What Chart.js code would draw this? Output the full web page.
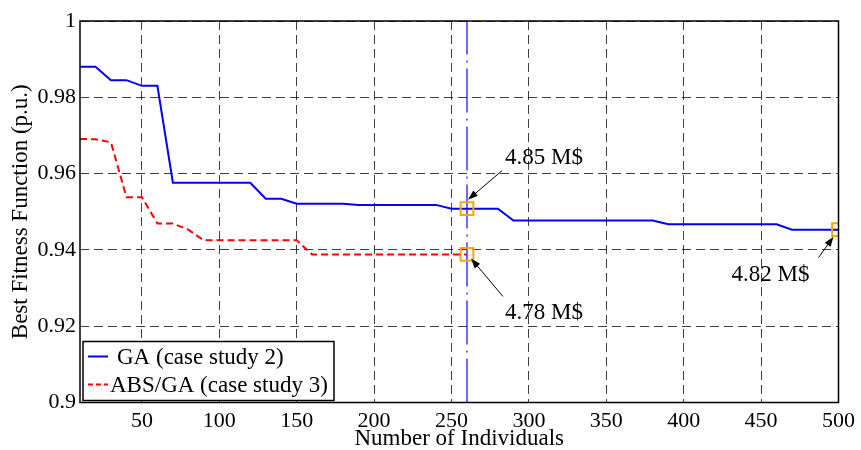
<!DOCTYPE html>
<html>
<head>
<meta charset="utf-8">
<script src="https://cdn.jsdelivr.net/npm/chart.js@4.4.0/dist/chart.umd.min.js"></script>
<style>
  body { margin: 0; background: #fff; }
  #wrap { width: 861px; height: 450px; }
</style>
</head>
<body>
<div id="wrap"><canvas id="fitChart"></canvas></div>
<script>
// number of individuals (x) and best fitness (y)
const individuals = [10,20,30,40,50,60,70,80,90,100,110,120,130,140,150,160,170,180,190,200,
  210,220,230,240,250,260,270,280,290,300,310,320,330,340,350,360,370,380,390,400,
  410,420,430,440,450,460,470,480,490,500];
const gaFitness = [0.9880,0.9880,0.9845,0.9845,0.9830,0.9830,0.9576,0.9576,0.9576,0.9576,0.9576,0.9576,
  0.9534,0.9534,0.9521,0.9521,0.9521,0.9521,0.9518,0.9518,0.9518,0.9518,0.9518,0.9518,
  0.9508,0.9508,0.9508,0.9508,0.9477,0.9477,0.9477,0.9477,0.9477,0.9477,0.9477,0.9477,0.9477,0.9477,
  0.9467,0.9467,0.9467,0.9467,0.9467,0.9467,0.9467,0.9467,0.9453,0.9453,0.9453,0.9453];
const absIndividuals = [10,20,30,40,50,60,70,80,90,100,110,120,130,140,150,160,170,180,190,200,
  210,220,230,240,250,260];
const absGaFitness = [0.9691,0.9690,0.9682,0.9538,0.9538,0.9469,0.9469,0.9453,0.9425,0.9425,0.9425,0.9425,
  0.9425,0.9425,0.9425,0.9388,0.9388,0.9388,0.9388,0.9388,0.9388,0.9388,0.9388,0.9388,0.9388,0.9388];

const cutoffX = 260;
const markerX = [260, 260, 500];
const markerY = [0.9508, 0.9388, 0.9453];
const markerLabels = ['4.85 M$', '4.78 M$', '4.82 M$'];

const xTicks = [50,100,150,200,250,300,350,400,450,500];
const yTicks = [0.9,0.92,0.94,0.96,0.98,1];
const legendLabels = ['GA (case study 2)', 'ABS/GA (case study 3)'];

// pixel offsets of arrows/texts relative to each marker
const noteOffsets = [
  {tip: [1, -9], tail: [35, -38], text: [38, -45]},
  {tip: [4, 4], tail: [36, 42], text: [38, 65]},
  {tip: [-5, 7], tail: [-20, 28], text: [-107, 51]}
];

const serif = '"Liberation Serif", "Times New Roman", serif';

function arrow(ctx, x1, y1, x2, y2) {
  const a = Math.atan2(y2 - y1, x2 - x1);
  const L = 10, W = 3.5;
  ctx.beginPath();
  ctx.moveTo(x1, y1);
  ctx.lineTo(x2 - 6 * Math.cos(a), y2 - 6 * Math.sin(a));
  ctx.stroke();
  ctx.beginPath();
  ctx.moveTo(x2, y2);
  ctx.lineTo(x2 - L * Math.cos(a) + W * Math.sin(a), y2 - L * Math.sin(a) - W * Math.cos(a));
  ctx.lineTo(x2 - L * Math.cos(a) - W * Math.sin(a), y2 - L * Math.sin(a) + W * Math.cos(a));
  ctx.closePath();
  ctx.fill();
}

const extras = {
  id: 'extras',
  afterDraw(chart) {
    const {ctx, chartArea: a, scales: {x, y}} = chart;
    ctx.save();
    // box around the axes
    ctx.strokeStyle = '#000';
    ctx.lineWidth = 1.5;
    ctx.setLineDash([]);
    ctx.strokeRect(a.left, a.top, a.right - a.left, a.bottom - a.top);

    // cost notes with arrows
    ctx.fillStyle = '#000';
    ctx.lineWidth = 1;
    ctx.font = '23px ' + serif;
    ctx.textBaseline = 'alphabetic';
    ctx.textAlign = 'left';
    markerX.forEach((mx, i) => {
      const px = x.getPixelForValue(mx), py = y.getPixelForValue(markerY[i]);
      const o = noteOffsets[i];
      arrow(ctx, px + o.tail[0], py + o.tail[1], px + o.tip[0], py + o.tip[1]);
      ctx.fillText(markerLabels[i], px + o.text[0], py + o.text[1]);
    });

    // legend box
    const bx = a.left + 3, by = a.bottom - 61, bw = 251, bh = 59;
    ctx.fillStyle = '#fff';
    ctx.fillRect(bx, by, bw, bh);
    ctx.strokeStyle = '#000';
    ctx.lineWidth = 1.5;
    ctx.strokeRect(bx, by, bw, bh);
    const rows = [
      {c: '#0000ff', dash: [], ty: 15, tx: 34},
      {c: '#ff0000', dash: [5, 3], ty: 43, tx: 27}
    ];
    ctx.textBaseline = 'middle';
    rows.forEach((r, i) => {
      ctx.strokeStyle = r.c;
      ctx.lineWidth = 2;
      ctx.setLineDash(r.dash);
      ctx.beginPath();
      ctx.moveTo(bx + 5, by + r.ty);
      ctx.lineTo(bx + 25, by + r.ty);
      ctx.stroke();
      ctx.setLineDash([]);
      ctx.fillStyle = '#000';
      ctx.fillText(legendLabels[i], bx + r.tx, by + r.ty + 1);
    });
    ctx.restore();
  }
};

const toPts = (xs, ys) => xs.map((v, i) => ({x: v, y: ys[i]}));

const ctx = document.getElementById('fitChart').getContext('2d');
const fitChart = new Chart(ctx, {
  type: 'line',
  data: {
    datasets: [
      {
        label: 'cost markers',
        data: toPts(markerX, markerY),
        showLine: false,
        pointStyle: 'rect',
        pointRadius: 9,
        pointBorderWidth: 2,
        pointBorderColor: '#ffa500',
        pointBackgroundColor: 'rgba(0,0,0,0)'
      },
      {
        label: legendLabels[0],
        data: toPts(individuals, gaFitness),
        borderColor: '#0000ff',
        borderWidth: 2,
        pointRadius: 0,
        tension: 0
      },
      {
        label: legendLabels[1],
        data: toPts(absIndividuals, absGaFitness),
        borderColor: '#ff0000',
        borderWidth: 2,
        borderDash: [7, 4],
        pointRadius: 0,
        tension: 0
      },
      {
        label: 'cutoff',
        data: [{x: cutoffX, y: yTicks[0]}, {x: cutoffX, y: yTicks[yTicks.length - 1]}],
        borderColor: '#1a1aff',
        backgroundColor: '#1a1aff',
        borderWidth: 1.3,
        borderDash: [44, 6, 2, 6],
        pointRadius: 0,
        fill: false
      }
    ]
  },
  options: {
    responsive: true,
    maintainAspectRatio: false,
    animation: false,
    layout: {padding: {top: 21, right: 19, left: 0, bottom: 0}},
    plugins: {legend: {display: false}, tooltip: {enabled: false}},
    scales: {
      x: {
        type: 'linear',
        min: 10,
        max: 500,
        afterBuildTicks: s => { s.ticks = xTicks.map(v => ({value: v})); },
        afterFit: s => { s.height = 47.5; },
        grid: {color: 'rgba(0,0,0,0.75)', lineWidth: 1, drawTicks: false},
        border: {display: false, dash: [9, 5]},
        ticks: {color: '#000', padding: 6, maxRotation: 0, font: {family: serif, size: 22}},
        title: {display: true, text: 'Number of Individuals', color: '#000',
          padding: {top: 0, bottom: -3}, font: {family: serif, size: 23}}
      },
      y: {
        min: 0.9,
        max: 1,
        afterBuildTicks: s => { s.ticks = yTicks.map(v => ({value: v})); },
        afterFit: s => { s.width = 80; },
        grid: {color: 'rgba(0,0,0,0.75)', lineWidth: 1, drawTicks: false},
        border: {display: false, dash: [9, 5]},
        ticks: {color: '#000', padding: 4, font: {family: serif, size: 22},
          callback: v => String(+v.toFixed(2))},
        title: {display: true, text: 'Best Fitness Function (p.u.)', color: '#000',
          padding: {top: 7, bottom: 0}, font: {family: serif, size: 23}}
      }
    }
  },
  plugins: [extras]
});
</script>
</body>
</html>
